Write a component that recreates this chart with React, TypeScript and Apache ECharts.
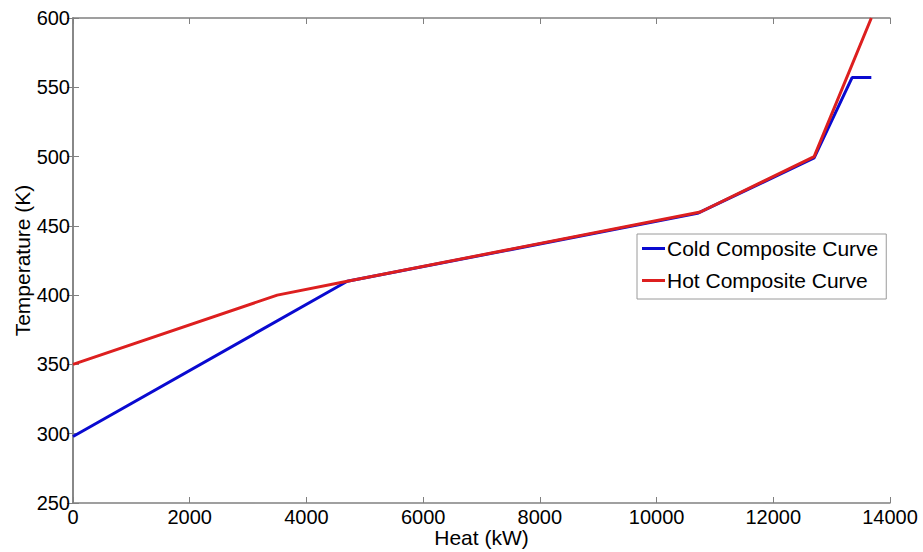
import React, { useEffect, useRef } from "react";
import * as echarts from "echarts";

const coldHeat = [0, 4700, 10700, 12700, 13350, 13680];
const coldTemp = [298, 410, 459, 499, 557, 557];
const hotHeat = [0, 3500, 4700, 10750, 12700, 13680];
const hotTemp = [350, 400, 410, 460, 500, 600];

const xMin = 0, xMax = 14000, xStep = 2000;
const yMin = 250, yMax = 600, yStep = 50;

const FONT = "Liberation Sans, Arial, sans-serif";

export default function App() {
  const ref = useRef<HTMLDivElement>(null);
  useEffect(() => {
    const chart = echarts.init(ref.current!, null, { renderer: "svg" });
    const axisLine = { show: true, lineStyle: { color: "#808080", width: 1.5 } };
    const axisTick = { show: true, inside: true, length: 6, lineStyle: { color: "#808080", width: 1 } };
    const fmt = (v: number) => String(v);
    chart.setOption({
      animation: false,
      backgroundColor: "#ffffff",
      grid: { left: 73, right: 33, top: 18, bottom: 49, containLabel: false, outerBoundsMode: "none" },
      legend: {
        orient: "vertical",
        left: 637,
        top: 234,
        padding: [4, 8, 8, 5],
        itemGap: 11,
        itemWidth: 23,
        itemHeight: 3,
        icon: "rect",
        borderColor: "#9a9a9a",
        borderWidth: 1,
        backgroundColor: "#ffffff",
        textStyle: { fontFamily: FONT, fontSize: 21, color: "#000", padding: [0, 0, 0, -3] },
        data: ["Cold Composite Curve", "Hot Composite Curve"],
      },
      xAxis: [
        {
          type: "value",
          min: xMin,
          max: xMax,
          interval: xStep,
          name: "Heat (kW)",
          nameLocation: "middle",
          nameGap: 24,
          nameMoveOverlap: false,
          nameTextStyle: { fontFamily: FONT, fontSize: 21, color: "#000" },
          axisLine,
          axisTick,
          splitLine: { show: false },
          axisLabel: { fontFamily: FONT, fontSize: 20, color: "#000", margin: 4, formatter: fmt },
        },
        {
          type: "value",
          position: "top",
          min: xMin,
          max: xMax,
          interval: xStep,
          axisLine,
          axisTick,
          splitLine: { show: false },
          axisLabel: { show: false },
        },
      ],
      yAxis: [
        {
          type: "value",
          min: yMin,
          max: yMax,
          interval: yStep,
          name: "Temperature (K)",
          nameLocation: "middle",
          nameGap: 40,
          nameMoveOverlap: false,
          nameTextStyle: { fontFamily: FONT, fontSize: 21, color: "#000" },
          axisLine,
          axisTick,
          splitLine: { show: false },
          axisLabel: { fontFamily: FONT, fontSize: 20, color: "#000", margin: 3, formatter: fmt },
        },
        {
          type: "value",
          position: "right",
          min: yMin,
          max: yMax,
          interval: yStep,
          axisLine,
          axisTick,
          splitLine: { show: false },
          axisLabel: { show: false },
        },
      ],
      series: [
        {
          name: "Cold Composite Curve",
          type: "line",
          data: coldHeat.map((h, i) => [h, coldTemp[i]]),
          showSymbol: false,
          symbol: "none",
          lineStyle: { color: "#0a0ad0", width: 3 },
          itemStyle: { color: "#0a0ad0" },
          z: 2,
        },
        {
          name: "Hot Composite Curve",
          type: "line",
          data: hotHeat.map((h, i) => [h, hotTemp[i]]),
          showSymbol: false,
          symbol: "none",
          lineStyle: { color: "#dd1f1f", width: 3 },
          itemStyle: { color: "#dd1f1f" },
          z: 3,
        },
      ],
    });
    return () => chart.dispose();
  }, []);
  return <div ref={ref} style={{ width: 923, height: 552, position: "absolute", left: 0, top: 0 }} />;
}
